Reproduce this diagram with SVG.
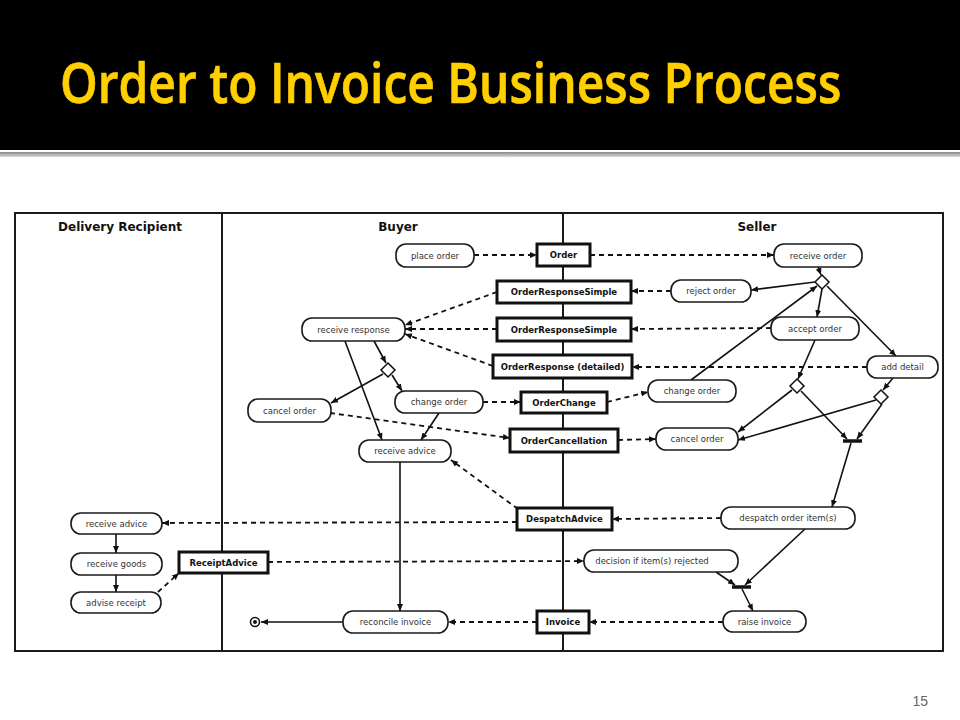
<svg xmlns="http://www.w3.org/2000/svg" width="960" height="720" viewBox="0 0 960 720">
<defs>
<marker id="ah" markerWidth="8" markerHeight="7" refX="7" refY="3.5" orient="auto" markerUnits="userSpaceOnUse">
<path d="M0,0.5 L7,3.5 L0,6.5 Z" fill="#111"/>
</marker>
<linearGradient id="gl" x1="0" y1="0" x2="0" y2="1">
<stop offset="0" stop-color="#8a8a8a"/>
<stop offset="1" stop-color="#d8d8d8"/>
</linearGradient>
</defs>
<style>
.act rect{fill:#fff;stroke:#1a1a1a;stroke-width:1.6}
.act text{font-family:"DejaVu Sans",Verdana,sans-serif;font-size:8.5px;fill:#333;text-anchor:middle}
.msg rect{fill:#fff;stroke:#111;stroke-width:3}
.msg text{font-family:"DejaVu Sans",Verdana,sans-serif;font-size:8.5px;font-weight:bold;fill:#111;text-anchor:middle}
.lane{font-family:"DejaVu Sans",Verdana,sans-serif;font-size:12px;font-weight:bold;fill:#111;text-anchor:middle}
.dia{fill:#fff;stroke:#111;stroke-width:1.5}
.bar{stroke:#111;stroke-width:3.5}
.sol{fill:none;stroke:#111;stroke-width:1.6;marker-end:url(#ah)}
.dsh{fill:none;stroke:#111;stroke-width:1.8;stroke-dasharray:5,4;marker-end:url(#ah)}
</style>
<rect x="0" y="0" width="960" height="720" fill="#fff"/>
<rect x="0" y="0" width="960" height="150" fill="#000"/>
<rect x="0" y="152" width="960" height="5" fill="url(#gl)"/>
<text x="60" y="89.6" transform="scale(1,1.15)" font-family="'Open Sans','Noto Sans',sans-serif" font-size="48" font-weight="600" fill="#FFCF00" stroke="#FFCF00" stroke-width="0.6">Order to Invoice Business Process</text>
<text x="928" y="706" font-family="'Liberation Sans',Arial,sans-serif" font-size="14" fill="#666" text-anchor="end">15</text>

<g id="swimlanes">
<rect x="15" y="213" width="928" height="438" fill="#fff" stroke="#1a1a1a" stroke-width="2"/>
<line x1="222" y1="213" x2="222" y2="651" stroke="#1a1a1a" stroke-width="2"/>
<line x1="563" y1="213" x2="563" y2="651" stroke="#1a1a1a" stroke-width="2"/>
<text class="lane" x="120" y="231">Delivery Recipient</text>
<text class="lane" x="398" y="231">Buyer</text>
<text class="lane" x="757" y="231">Seller</text>
</g>

<g id="connectors">
<path class="sol" d="M818,267 L821,275"/>
<path class="sol" d="M815,282 L751,290"/>
<path class="sol" d="M822,289 L817,317"/>
<path class="sol" d="M827,286 L896,356"/>
<path class="sol" d="M691,380 L817,286"/>
<path class="sol" d="M815,340 L798,379"/>
<path class="sol" d="M792,390 L738,432"/>
<path class="sol" d="M801,391 L847,439"/>
<path class="sol" d="M893,378 L883,390"/>
<path class="sol" d="M876,400 L738,440"/>
<path class="sol" d="M882,404 L857,439"/>
<path class="sol" d="M851,443 L832,507"/>
<path class="sol" d="M805,529 L745,585"/>
<path class="sol" d="M716,572 L735,585"/>
<path class="sol" d="M742,589 L753,611"/>
<path class="sol" d="M345,341 L382,440"/>
<path class="sol" d="M374,341 L386,363"/>
<path class="sol" d="M383,374 L331,403"/>
<path class="sol" d="M392,375 L402,391"/>
<path class="sol" d="M439,413 L421,440"/>
<path class="sol" d="M400,462 L400,611"/>
<path class="sol" d="M343,622 L261,622"/>
<path class="sol" d="M116,534 L116,553"/>
<path class="sol" d="M116,575 L116,592"/>
<path class="dsh" d="M474,255 L537,255"/>
<path class="dsh" d="M590,255 L774,255"/>
<path class="dsh" d="M671,291 L631,291"/>
<path class="dsh" d="M497,292 L405,325"/>
<path class="dsh" d="M497,329 L405,329"/>
<path class="dsh" d="M493,366 L405,334"/>
<path class="dsh" d="M771,328 L631,329"/>
<path class="dsh" d="M867,367 L632,367"/>
<path class="dsh" d="M483,402 L521,402"/>
<path class="dsh" d="M607,402 L648,392"/>
<path class="dsh" d="M330,413 L510,438"/>
<path class="dsh" d="M618,440 L656,439"/>
<path class="dsh" d="M721,518 L612,519"/>
<path class="dsh" d="M517,522 L162,523"/>
<path class="dsh" d="M518,509 L451,460"/>
<path class="dsh" d="M158,592 L179,573"/>
<path class="dsh" d="M268,562 L584,561"/>
<path class="dsh" d="M723,622 L589,622"/>
<path class="dsh" d="M537,622 L448,622"/>
</g>

<g id="n-place-order" class="act"><rect x="396" y="244" width="78" height="23" rx="10"/><text x="435" y="258.5">place order</text></g>
<g id="n-receive-response" class="act"><rect x="302" y="318" width="103" height="23" rx="10"/><text x="353.5" y="332.5">receive response</text></g>
<g id="n-buyer-cancel-order" class="act"><rect x="248" y="399" width="83" height="23" rx="10"/><text x="289.5" y="413.5">cancel order</text></g>
<g id="n-buyer-change-order" class="act"><rect x="395" y="391" width="88" height="22" rx="10"/><text x="439" y="405">change order</text></g>
<g id="n-buyer-receive-advice" class="act"><rect x="359" y="440" width="92" height="22" rx="10"/><text x="405" y="454">receive advice</text></g>
<g id="n-reconcile-invoice" class="act"><rect x="343" y="611" width="105" height="22" rx="10"/><text x="395.5" y="625">reconcile invoice</text></g>
<g id="n-dr-receive-advice" class="act"><rect x="71" y="513" width="91" height="21" rx="10"/><text x="116.5" y="526.5">receive advice</text></g>
<g id="n-receive-goods" class="act"><rect x="71" y="553" width="91" height="22" rx="10"/><text x="116.5" y="567">receive goods</text></g>
<g id="n-advise-receipt" class="act"><rect x="71" y="592" width="90" height="21" rx="10"/><text x="116" y="605.5">advise receipt</text></g>
<g id="n-receive-order" class="act"><rect x="774" y="244" width="88" height="23" rx="10"/><text x="818" y="258.5">receive order</text></g>
<g id="n-reject-order" class="act"><rect x="671" y="280" width="80" height="22" rx="10"/><text x="711" y="294">reject order</text></g>
<g id="n-accept-order" class="act"><rect x="771" y="317" width="88" height="23" rx="10"/><text x="815" y="331.5">accept order</text></g>
<g id="n-add-detail" class="act"><rect x="867" y="356" width="71" height="22" rx="10"/><text x="902.5" y="370">add detail</text></g>
<g id="n-seller-change-order" class="act"><rect x="648" y="380" width="88" height="22" rx="10"/><text x="692" y="394">change order</text></g>
<g id="n-seller-cancel-order" class="act"><rect x="656" y="428" width="82" height="22" rx="10"/><text x="697" y="442">cancel order</text></g>
<g id="n-despatch-items" class="act"><rect x="721" y="507" width="134" height="22" rx="10"/><text x="788" y="521">despatch order item(s)</text></g>
<g id="n-decision-rejected" class="act"><rect x="584" y="550" width="154" height="22" rx="10"/><text x="652" y="564">decision if item(s) rejected</text></g>
<g id="n-raise-invoice" class="act"><rect x="723" y="611" width="83" height="21" rx="10"/><text x="764.5" y="624.5">raise invoice</text></g>

<g id="m-order" class="msg"><rect x="537" y="244" width="53" height="22"/><text x="563.5" y="258">Order</text></g>
<g id="m-ors1" class="msg"><rect x="497" y="281" width="134" height="22"/><text x="564" y="295">OrderResponseSimple</text></g>
<g id="m-ors2" class="msg"><rect x="497" y="318" width="134" height="23"/><text x="564" y="332.5">OrderResponseSimple</text></g>
<g id="m-ordet" class="msg"><rect x="493" y="355" width="139" height="23"/><text x="562.5" y="369.5">OrderResponse (detailed)</text></g>
<g id="m-orderchange" class="msg"><rect x="521" y="392" width="86" height="21"/><text x="564" y="405.5">OrderChange</text></g>
<g id="m-ordercancel" class="msg"><rect x="510" y="429" width="108" height="23"/><text x="564" y="443.5">OrderCancellation</text></g>
<g id="m-despatch" class="msg"><rect x="517" y="508" width="95" height="22"/><text x="564.5" y="522">DespatchAdvice</text></g>
<g id="m-invoice" class="msg"><rect x="537" y="611" width="52" height="22"/><text x="563" y="625">Invoice</text></g>
<g id="m-receiptadvice" class="msg"><rect x="179" y="552" width="89" height="21"/><text x="223.5" y="565.5">ReceiptAdvice</text></g>

<g id="d-seller-1"><path class="dia" d="M822,275 L829,282 L822,289 L815,282 Z"/></g>
<g id="d-buyer"><path class="dia" d="M388,363 L395,370 L388,377 L381,370 Z"/></g>
<g id="d-seller-2"><path class="dia" d="M797,379 L804,386 L797,393 L790,386 Z"/></g>
<g id="d-seller-3"><path class="dia" d="M881,390 L888,397 L881,404 L874,397 Z"/></g>
<g id="j-bar-1"><line class="bar" x1="843" y1="441" x2="862" y2="441"/></g>
<g id="j-bar-2"><line class="bar" x1="732" y1="587" x2="751" y2="587"/></g>
<g id="n-end"><circle cx="255" cy="622" r="4.5" fill="#fff" stroke="#111" stroke-width="1.6"/><circle cx="255" cy="622" r="2" fill="#111"/></g>
</svg>
